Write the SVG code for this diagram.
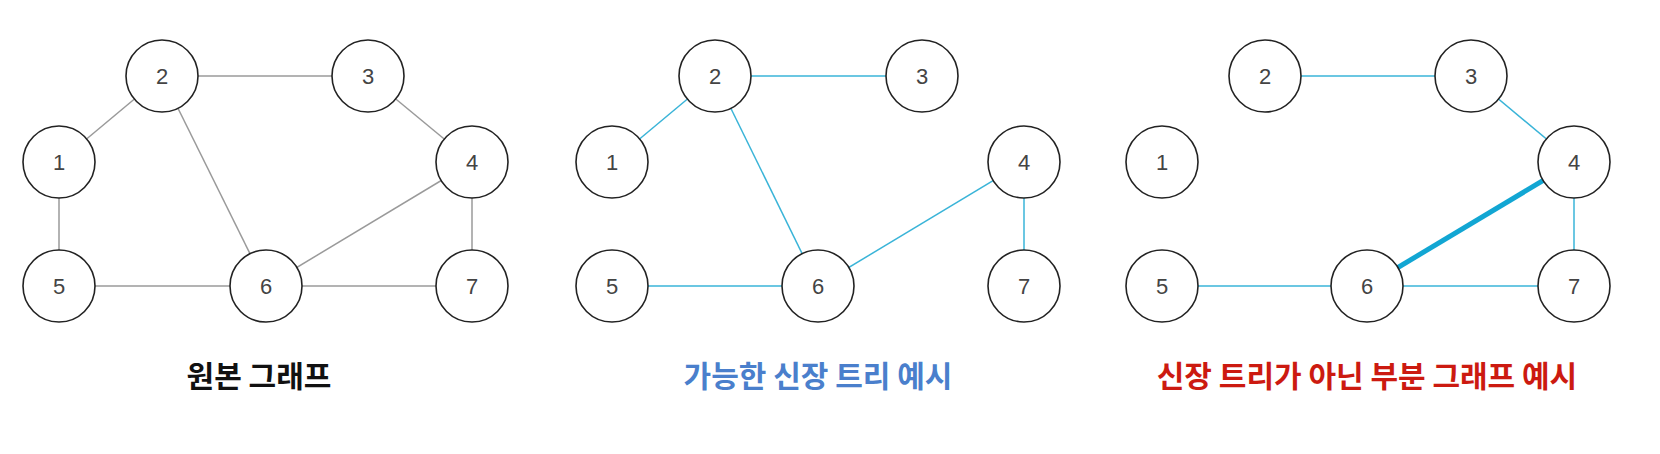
<svg xmlns="http://www.w3.org/2000/svg" width="1660" height="454" viewBox="0 0 1660 454">
<style>
.n circle{fill:#fff;stroke:#222;stroke-width:1.6}
.n text{font-family:"Liberation Sans",Arial,sans-serif;font-size:22px;fill:#444;text-anchor:middle;dominant-baseline:central}
.g{stroke:#9a9a9a;stroke-width:1.5}
.b{stroke:#3ab4d8;stroke-width:1.5}
.t{stroke:#12a6d3;stroke-width:5}
.lab{font-family:"Noto Sans CJK KR",sans-serif;font-size:30px;font-weight:bold;text-anchor:middle}
</style>
<rect width="1660" height="454" fill="#fff"/>
<g id="connectors">
<line class="g" x1="59" y1="162" x2="162" y2="76"/>
<line class="g" x1="162" y1="76" x2="368" y2="76"/>
<line class="g" x1="162" y1="76" x2="266" y2="286"/>
<line class="g" x1="368" y1="76" x2="472" y2="162"/>
<line class="g" x1="59" y1="162" x2="59" y2="286"/>
<line class="g" x1="472" y1="162" x2="266" y2="286"/>
<line class="g" x1="59" y1="286" x2="266" y2="286"/>
<line class="g" x1="266" y1="286" x2="472" y2="286"/>
<line class="g" x1="472" y1="162" x2="472" y2="286"/>
<line class="b" x1="612" y1="162" x2="715" y2="76"/>
<line class="b" x1="715" y1="76" x2="922" y2="76"/>
<line class="b" x1="715" y1="76" x2="818" y2="286"/>
<line class="b" x1="612" y1="286" x2="818" y2="286"/>
<line class="b" x1="818" y1="286" x2="1024" y2="162"/>
<line class="b" x1="1024" y1="162" x2="1024" y2="286"/>
<line class="b" x1="1265" y1="76" x2="1471" y2="76"/>
<line class="b" x1="1471" y1="76" x2="1574" y2="162"/>
<line class="t" x1="1367" y1="286" x2="1574" y2="162"/>
<line class="b" x1="1574" y1="162" x2="1574" y2="286"/>
<line class="b" x1="1162" y1="286" x2="1367" y2="286"/>
<line class="b" x1="1367" y1="286" x2="1574" y2="286"/>
</g>
<g id="a1" class="n"><circle cx="59" cy="162" r="36"/><text x="59" y="162">1</text></g>
<g id="a2" class="n"><circle cx="162" cy="76" r="36"/><text x="162" y="76">2</text></g>
<g id="a3" class="n"><circle cx="368" cy="76" r="36"/><text x="368" y="76">3</text></g>
<g id="a4" class="n"><circle cx="472" cy="162" r="36"/><text x="472" y="162">4</text></g>
<g id="a5" class="n"><circle cx="59" cy="286" r="36"/><text x="59" y="286">5</text></g>
<g id="a6" class="n"><circle cx="266" cy="286" r="36"/><text x="266" y="286">6</text></g>
<g id="a7" class="n"><circle cx="472" cy="286" r="36"/><text x="472" y="286">7</text></g>
<g id="b1" class="n"><circle cx="612" cy="162" r="36"/><text x="612" y="162">1</text></g>
<g id="b2" class="n"><circle cx="715" cy="76" r="36"/><text x="715" y="76">2</text></g>
<g id="b3" class="n"><circle cx="922" cy="76" r="36"/><text x="922" y="76">3</text></g>
<g id="b4" class="n"><circle cx="1024" cy="162" r="36"/><text x="1024" y="162">4</text></g>
<g id="b5" class="n"><circle cx="612" cy="286" r="36"/><text x="612" y="286">5</text></g>
<g id="b6" class="n"><circle cx="818" cy="286" r="36"/><text x="818" y="286">6</text></g>
<g id="b7" class="n"><circle cx="1024" cy="286" r="36"/><text x="1024" y="286">7</text></g>
<g id="c1" class="n"><circle cx="1162" cy="162" r="36"/><text x="1162" y="162">1</text></g>
<g id="c2" class="n"><circle cx="1265" cy="76" r="36"/><text x="1265" y="76">2</text></g>
<g id="c3" class="n"><circle cx="1471" cy="76" r="36"/><text x="1471" y="76">3</text></g>
<g id="c4" class="n"><circle cx="1574" cy="162" r="36"/><text x="1574" y="162">4</text></g>
<g id="c5" class="n"><circle cx="1162" cy="286" r="36"/><text x="1162" y="286">5</text></g>
<g id="c6" class="n"><circle cx="1367" cy="286" r="36"/><text x="1367" y="286">6</text></g>
<g id="c7" class="n"><circle cx="1574" cy="286" r="36"/><text x="1574" y="286">7</text></g>
<g id="labels">
<text class="lab" x="259" y="387" fill="#111" font-weight="500">원본 그래프</text>
<text class="lab" x="818" y="387" fill="#4a7fcc">가능한 신장 트리 예시</text>
<text class="lab" x="1367" y="387" fill="#cc1a10">신장 트리가 아닌 부분 그래프 예시</text>
</g>
</svg>
